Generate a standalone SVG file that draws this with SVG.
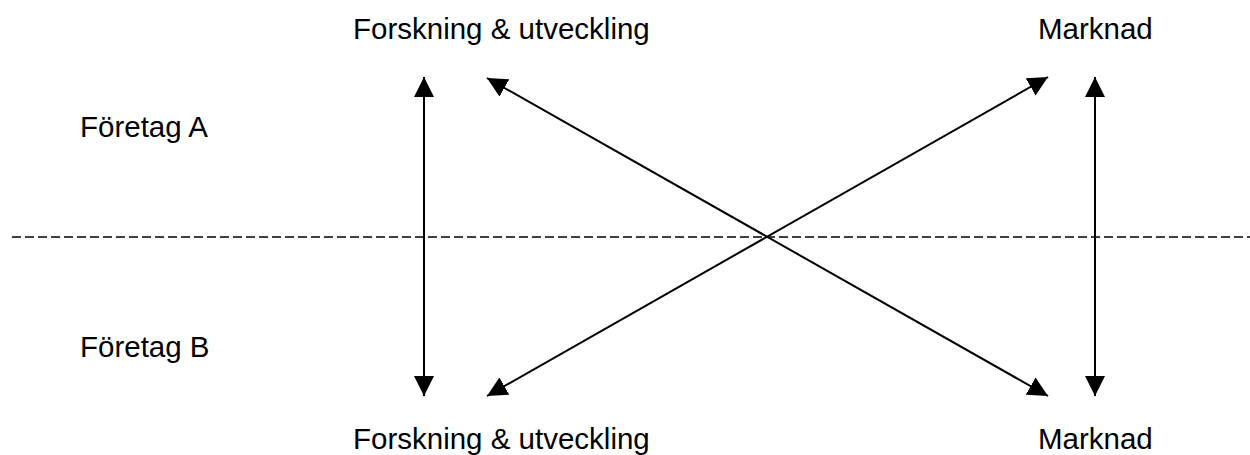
<svg xmlns="http://www.w3.org/2000/svg" width="1250" height="455" viewBox="0 0 1250 455">
<style>
  .lbl { font-family: "Liberation Sans", Arial, sans-serif; font-size: 29.5px; fill: #000; }
  .ln { stroke: #000; stroke-width: 2; fill: none; }
  .dash { stroke: #000; stroke-width: 1.6; stroke-dasharray: 9 4; fill: none; }
</style>
<defs>
  <marker id="ah" viewBox="0 0 20 20" refX="20" refY="10" markerWidth="20" markerHeight="20" markerUnits="userSpaceOnUse" orient="auto-start-reverse">
    <path d="M0,0 L20,10 L0,20 Z" fill="#000"/>
  </marker>
</defs>
<rect width="1250" height="455" fill="#fff"/>
<g id="label-fu-a"><text class="lbl" x="353" y="39">Forskning &amp; utveckling</text></g>
<g id="label-marknad-a"><text class="lbl" x="1038" y="39">Marknad</text></g>
<g id="label-foretag-a"><text class="lbl" x="80" y="137">Företag A</text></g>
<g id="label-foretag-b"><text class="lbl" x="80" y="357">Företag B</text></g>
<g id="label-fu-b"><text class="lbl" x="353" y="449">Forskning &amp; utveckling</text></g>
<g id="label-marknad-b"><text class="lbl" x="1038" y="449">Marknad</text></g>
<g id="connectors">
  <line class="dash" x1="12" y1="237" x2="1250" y2="237"/>
  <line class="ln" x1="424" y1="77" x2="424" y2="396" marker-start="url(#ah)" marker-end="url(#ah)"/>
  <line class="ln" x1="1095" y1="77" x2="1095" y2="396" marker-start="url(#ah)" marker-end="url(#ah)"/>
  <line class="ln" x1="487" y1="78" x2="1048" y2="396" marker-start="url(#ah)" marker-end="url(#ah)"/>
  <line class="ln" x1="487" y1="396" x2="1048" y2="77" marker-start="url(#ah)" marker-end="url(#ah)"/>
</g>
</svg>
